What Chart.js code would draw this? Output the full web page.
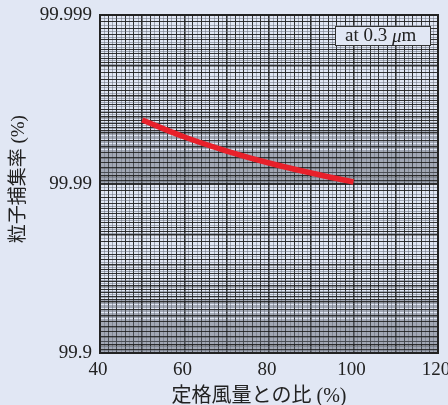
<!DOCTYPE html>
<html>
<head>
<meta charset="utf-8">
<script src="https://cdn.jsdelivr.net/npm/chart.js@4.4.0/dist/chart.umd.min.js"></script>
<style>
  html, body { margin: 0; padding: 0; background: #e1e7f4; }
  #wrap { width: 448px; height: 405px; }
</style>
</head>
<body>
<div id="wrap"><canvas id="chart"></canvas></div>
<script>
// values
const flowRatio = [50, 60, 70, 80, 90, 100];
const efficiency = [99.99582, 99.99473, 99.99362, 99.99249, 99.99139, 99.99027];
const xTickLabels = [40, 60, 80, 100, 120];
const yTickValues = [0.1, 0.01, 0.001];          // penetration (%) = 100 - efficiency
const yTickLabels = ['99.9', '99.99', '99.999'];
const noteParts = ['at 0.3 ', 'μ', 'm'];

const BG = '#e1e7f4';
const FONT = "'Liberation Serif', 'Noto Sans CJK JP', serif";
Chart.defaults.font.family = FONT;
Chart.defaults.color = '#222';

// log-paper style grid: fine lines inside each decade
function logGridTicks() {
  const out = [];
  [0.001, 0.01].forEach(function (dec) {
    for (let k = 100; k < 1000; k += (k < 200 ? 5 : 10)) {
      let level = 0;
      if (k === 100) level = 3;
      else if (k % 100 === 0) level = 2;
      else if (k < 200 ? k % 10 === 0 : (k < 500 ? k % 20 === 0 : k % 50 === 0)) level = 1;
      out.push({ value: +(dec * k / 100).toPrecision(6), level: level });
    }
  });
  out.push({ value: 0.1, level: 3 });
  return out;
}
function linGridTicks() {
  const out = [];
  for (let v = 40; v <= 120; v++) {
    out.push({ value: v, level: v % 10 === 0 ? 2 : (v % 2 === 0 ? 1 : 0) });
  }
  return out;
}
const gridColor = ctx => (ctx.tick && ctx.tick.level >= 1) ? 'rgba(30,30,30,0.9)' : 'rgba(100,105,118,0.5)';
const gridWidth = ctx => {
  const l = ctx.tick ? ctx.tick.level : 0;
  return l >= 3 ? 2 : (l === 2 ? 1.6 : 1);
};

const bgPlugin = {
  id: 'bg',
  beforeDraw(chart) {
    const c = chart.ctx;
    c.save();
    c.fillStyle = BG;
    c.fillRect(0, 0, chart.width, chart.height);
    c.restore();
  }
};
const framePlugin = {
  id: 'frame',
  afterDraw(chart) {
    const a = chart.chartArea, c = chart.ctx;
    c.save();
    c.strokeStyle = '#222';
    c.lineWidth = 2;
    c.strokeRect(a.left, a.top, a.right - a.left, a.bottom - a.top);

    // "at 0.3 μm" note box
    const bx = a.right - 103, by = a.top + 11, bw = 95, bh = 19;
    c.fillStyle = BG;
    c.fillRect(bx, by, bw, bh);
    c.lineWidth = 1;
    c.strokeStyle = '#333';
    c.strokeRect(bx + 0.5, by + 0.5, bw, bh);
    c.fillStyle = '#222';
    c.textBaseline = 'middle';
    let x = bx + 10;
    const y = by + bh / 2 + 1;
    noteParts.forEach(function (p, i) {
      c.font = (i === 1 ? 'italic ' : '') + '19px ' + FONT;
      c.fillText(p, x, y);
      x += c.measureText(p).width;
    });
    c.restore();
  }
};

new Chart(document.getElementById('chart').getContext('2d'), {
  type: 'line',
  data: {
    datasets: [{
      data: flowRatio.map((f, i) => ({ x: f, y: 100 - efficiency[i] })),
      borderColor: '#e8202a',
      borderWidth: 5.5,
      borderCapStyle: 'butt',
      pointRadius: 0,
      tension: 0.4,
      fill: false
    }]
  },
  options: {
    responsive: true,
    maintainAspectRatio: false,
    animation: false,
    layout: { padding: { top: 15, right: 10, left: 0, bottom: 0 } },
    plugins: { legend: { display: false }, tooltip: { enabled: false }, title: { display: false } },
    scales: {
      x: {
        type: 'linear',
        min: 40,
        max: 120,
        afterBuildTicks: s => { s.ticks = linGridTicks(); },
        afterFit: s => { s.height = 52; s.paddingLeft = 0; s.paddingRight = 0; },
        grid: { color: gridColor, lineWidth: gridWidth, drawTicks: false },
        border: { display: false },
        ticks: {
          autoSkip: false,
          maxRotation: 0,
          padding: 6,
          labelOffset: -2,
          color: '#222',
          font: { size: 19 },
          callback: v => xTickLabels.includes(v) ? String(v) : ''
        },
        title: { display: true, text: '定格風量との比 (%)\u00a0\u00a0\u00a0\u00a0', color: '#222', font: { size: 20 }, padding: { top: 0, bottom: -4 } }
      },
      y: {
        type: 'logarithmic',
        min: 0.001,
        max: 0.1,
        reverse: true,
        afterBuildTicks: s => { s.ticks = logGridTicks(); },
        afterFit: s => { s.width = 100; s.paddingTop = 0; s.paddingBottom = 0; },
        grid: { color: gridColor, lineWidth: gridWidth, drawTicks: false },
        border: { display: false },
        ticks: {
          autoSkip: false,
          padding: 8,
          color: '#222',
          font: { size: 19 },
          callback: v => {
            const i = yTickValues.findIndex(t => Math.abs(t - v) < t * 1e-6);
            return i >= 0 ? yTickLabels[i] : '';
          }
        },
        title: { display: true, text: '\u00a0\u00a0粒子捕集率 (%)', color: '#222', font: { size: 19 }, padding: { top: 8 } }
      }
    }
  },
  plugins: [bgPlugin, framePlugin]
});
</script>
</body>
</html>
